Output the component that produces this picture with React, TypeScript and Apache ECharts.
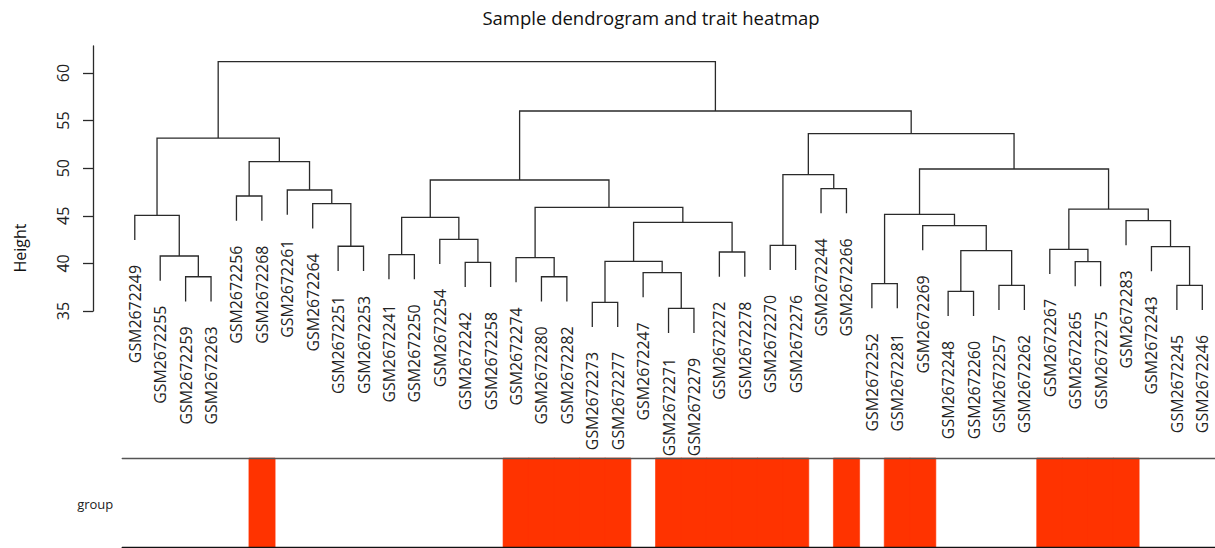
import React, { useEffect, useRef } from "react";
import * as echarts from "echarts";

// Leaves in dendrogram order
const leafNames = [
  "GSM2672249", "GSM2672255", "GSM2672259", "GSM2672263", "GSM2672256", "GSM2672268",
  "GSM2672261", "GSM2672264", "GSM2672251", "GSM2672253", "GSM2672241", "GSM2672250",
  "GSM2672254", "GSM2672242", "GSM2672258", "GSM2672274", "GSM2672280", "GSM2672282",
  "GSM2672273", "GSM2672277", "GSM2672247", "GSM2672271", "GSM2672279", "GSM2672272",
  "GSM2672278", "GSM2672270", "GSM2672276", "GSM2672244", "GSM2672266", "GSM2672252",
  "GSM2672281", "GSM2672269", "GSM2672248", "GSM2672260", "GSM2672257", "GSM2672262",
  "GSM2672267", "GSM2672265", "GSM2672275", "GSM2672283", "GSM2672243", "GSM2672245",
  "GSM2672246",
];

// Trait "group" per leaf (1 = red, 0 = white)
const groupFlags = [
  0, 0, 0, 0, 0, 1, 0, 0, 0, 0, 0, 0, 0, 0, 0, 1, 1, 1, 1, 1, 0, 1, 1, 1, 1, 1, 1,
  0, 1, 0, 1, 1, 0, 0, 0, 0, 1, 1, 1, 1, 0, 0, 0,
];

// hclust-style merge table: negative = -(leaf index + 1), positive = merge number (1-based)
const mergeLeft = [
  -3, -2, -1, -5, -9, -8, -7, 4, 3, -11, -14, -13, 10, -17, -16, -19, -22, -21, 16, -24, 19,
  15, 13, -26, -28, 24, -30, -33, -35, 28, -32, 27, -38, -37, -42, -41, -40, 34, 32, 26, 23, 9,
];
const mergeRight = [
  -4, 1, 2, -6, -10, 5, 6, 7, 8, -12, -15, 11, 12, -18, 14, -20, -23, 17, 18, -25, 20,
  21, 22, -27, -29, 25, -31, -34, -36, 29, 30, 31, -39, 33, -43, 35, 36, 37, 38, 39, 40, 41,
];
const mergeHeights = [
  38.6, 40.78, 45.05, 47.08, 41.8, 46.27, 47.71, 50.69, 53.17, 40.92, 40.11, 42.53, 44.84,
  38.6, 40.6, 35.91, 35.28, 39.03, 40.22, 41.2, 44.31, 45.89, 48.76, 41.9, 47.85, 49.32,
  37.87, 37.07, 37.7, 41.34, 43.97, 45.16, 40.18, 41.48, 37.7, 41.76, 44.49, 45.71, 49.92,
  53.63, 56.01, 61.19,
];

const heightTicks = [35, 40, 45, 50, 55, 60];

const FONT = '"Open Sans", "Noto Sans", sans-serif';

function buildTree() {
  const hMax = Math.max(...mergeHeights);
  const hMin = Math.min(...mergeHeights);
  const hang = 0.1 * (hMax - hMin);
  const nodeX: number[] = [];
  const segs: number[][] = [];
  const leafEnd: number[] = new Array(leafNames.length).fill(0);
  for (let k = 0; k < mergeHeights.length; k++) {
    const h = mergeHeights[k];
    const child = (c: number) => {
      if (c < 0) {
        const idx = -c - 1;
        leafEnd[idx] = h - hang;
        return [idx, h - hang];
      }
      return [nodeX[c - 1], mergeHeights[c - 1]];
    };
    const [xl, yl] = child(mergeLeft[k]);
    const [xr, yr] = child(mergeRight[k]);
    nodeX[k] = (xl + xr) / 2;
    segs.push([xl, yl, xr, yr, h]);
  }
  return { segs, leafEnd };
}

export default function App() {
  const ref = useRef<HTMLDivElement>(null);
  useEffect(() => {
    if (!ref.current) return;
    const chart = echarts.init(ref.current, undefined, { renderer: "svg" });
    const { segs, leafEnd } = buildTree();
    const lineColor = "#2a2a2a";
    const red = "#FF3300";

    const option: any = {
      animation: false,
      grid: [
        { left: 93, top: 46, width: 1127.9, height: 265, show: false },
        { left: 122.25, top: 458, width: 1098.65, height: 89, show: false },
      ],
      xAxis: [
        { gridIndex: 0, type: "value", min: -1.644, max: 42.5, show: false },
        {
          gridIndex: 1, type: "value", min: -0.5, max: 42.5, position: "bottom", z: 5,
          axisLine: { show: true, onZero: false, lineStyle: { color: "#111", width: 1.4 } },
          axisTick: { show: false }, axisLabel: { show: false }, splitLine: { show: false },
        },
        {
          gridIndex: 1, type: "value", min: -0.5, max: 42.5, position: "top", z: 5,
          axisLine: { show: true, onZero: false, lineStyle: { color: "#555", width: 1.4 } },
          axisTick: { show: false }, axisLabel: { show: false }, splitLine: { show: false },
        },
      ],
      yAxis: [
        {
          gridIndex: 0, type: "value", min: 35, max: 62.84,
          axisLine: { show: true, onZero: false, lineStyle: { color: lineColor, width: 1.3 } },
          axisTick: { show: true, length: 10, customValues: heightTicks, lineStyle: { color: lineColor, width: 1.3 } },
          axisLabel: {
            show: true, customValues: heightTicks, rotate: 90, margin: 22,
            fontSize: 16, fontFamily: FONT, color: "#222",
          },
          splitLine: { show: false },
        },
        { gridIndex: 1, type: "value", min: 0, max: 1, show: false },
      ],
      series: [
        {
          type: "custom", xAxisIndex: 0, yAxisIndex: 0, clip: false, silent: true,
          data: segs,
          renderItem: (params: any, api: any) => {
            const p1 = api.coord([api.value(0), api.value(1)]);
            const p2 = api.coord([api.value(0), api.value(4)]);
            const p3 = api.coord([api.value(2), api.value(4)]);
            const p4 = api.coord([api.value(2), api.value(3)]);
            return {
              type: "polyline",
              shape: { points: [p1, p2, p3, p4] },
              style: { stroke: lineColor, lineWidth: 1.3, fill: "none" },
            };
          },
        },
        {
          type: "custom", xAxisIndex: 0, yAxisIndex: 0, clip: false, silent: true,
          data: leafEnd.map((y, i) => [i, y]),
          renderItem: (params: any, api: any) => {
            const i = params.dataIndex;
            const p = api.coord([api.value(0), api.value(1)]);
            return {
              type: "text",
              x: p[0],
              y: p[1] + 25,
              rotation: Math.PI / 2,
              style: {
                text: leafNames[i],
                fill: "#222",
                fontSize: 15.9,
                fontFamily: FONT,
                align: "right",
                verticalAlign: "middle",
                textAlign: "right",
                textVerticalAlign: "middle",
              },
            };
          },
        },
        {
          type: "custom", xAxisIndex: 1, yAxisIndex: 1, clip: false, silent: true,
          data: groupFlags.map((v, i) => [i, v]),
          renderItem: (params: any, api: any) => {
            const i = api.value(0);
            const v = api.value(1);
            if (!(v > 0)) return null;
            const a = api.coord([i - 0.5, 1]);
            const b = api.coord([i + 0.5, 0]);
            return {
              type: "rect",
              shape: { x: a[0] - 0.4, y: a[1], width: b[0] - a[0] + 0.8, height: b[1] - a[1] },
              style: { fill: red, stroke: red, lineWidth: 0.6 },
            };
          },
        },
      ],
      graphic: [
        {
          type: "text", x: 651, y: 17,
          style: {
            text: "Sample dendrogram and trait heatmap", fill: "#111",
            fontSize: 18.5, fontFamily: FONT,
            align: "center", verticalAlign: "middle", textAlign: "center", textVerticalAlign: "middle",
          },
        },
        {
          type: "text", x: 19.5, y: 248, rotation: Math.PI / 2,
          style: {
            text: "Height", fill: "#111", fontSize: 16, fontFamily: FONT,
            align: "center", verticalAlign: "middle", textAlign: "center", textVerticalAlign: "middle",
          },
        },
        {
          type: "text", x: 113.3, y: 504,
          style: {
            text: "group", fill: "#222", fontSize: 13, fontFamily: FONT,
            align: "right", verticalAlign: "middle", textAlign: "right", textVerticalAlign: "middle",
          },
        },
      ],
    };
    chart.setOption(option);
    return () => chart.dispose();
  }, []);
  return (
    <div
      ref={ref}
      style={{ position: "fixed", left: 0, top: 0, width: 1215, height: 548, background: "#fff" }}
    />
  );
}
